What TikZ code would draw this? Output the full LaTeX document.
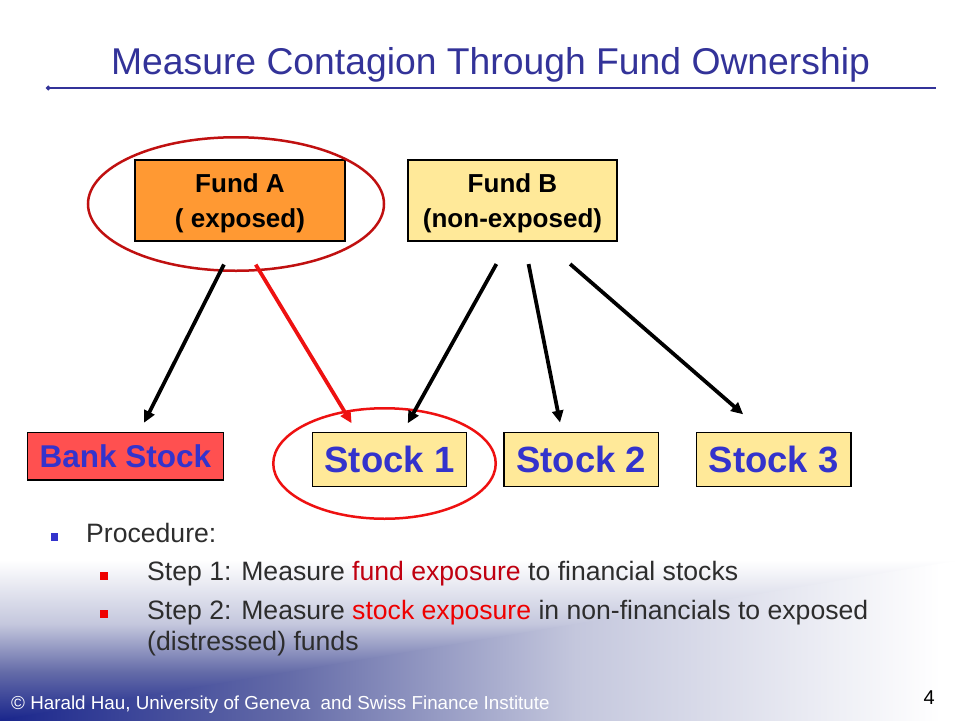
\documentclass[tikz,border=0pt]{standalone}
\usepackage{fontspec}
\setmainfont{Liberation Sans}
\usetikzlibrary{arrows.meta,shapes.geometric}
\definecolor{titleblue}{RGB}{51,51,153}
\definecolor{boxblue}{RGB}{51,51,204}
\definecolor{fundorange}{RGB}{255,153,51}
\definecolor{paleyellow}{RGB}{255,233,153}
\definecolor{bankred}{RGB}{255,80,80}
\definecolor{darkring}{RGB}{192,16,16}
\definecolor{brightred}{RGB}{238,17,17}
\definecolor{bodygray}{RGB}{45,45,45}
\definecolor{darkredtxt}{RGB}{192,0,16}
\definecolor{bulletred}{RGB}{238,0,0}
\definecolor{gradA}{RGB}{26,38,140}
\definecolor{gradB}{RGB}{100,107,168}
\definecolor{gradC}{RGB}{196,199,221}
\pgfdeclarehorizontalshading{foothor}{100bp}{color(0bp)=(gradA); color(25bp)=(gradA); color(40bp)=(gradB); color(55bp)=(gradC); color(74bp)=(white); color(100bp)=(white)}
\pgfdeclareverticalshading{footver}{100bp}{color(0bp)=(gradA); color(25bp)=(gradA); color(40bp)=(gradB); color(55bp)=(gradC); color(75bp)=(white); color(100bp)=(white)}
\begin{document}
\begin{tikzpicture}[x=1pt,y=-1pt,
  fundbox/.style={draw=black, line width=1.2pt, minimum width=210pt, minimum height=81pt, inner sep=0pt},
  stockbox/.style={draw=black, line width=1.2pt, fill=paleyellow, minimum width=154.5pt, minimum height=54pt, inner sep=0pt, text=boxblue, font=\fontsize{36.5pt}{40pt}\selectfont\bfseries},
  fundtxt/.style={anchor=base, inner sep=0pt, font=\fontsize{26pt}{30pt}\selectfont\bfseries},
  bodytxt/.style={anchor=base west, inner sep=0pt, text=bodygray, font=\fontsize{26.6pt}{32pt}\selectfont},
  arr/.style={line width=3.75pt, -{Triangle[length=12pt,width=11pt]}},
  ring/.style={ellipse, draw, line width=2.5pt, inner sep=0pt},
  sqbullet/.style={inner sep=0pt, rectangle}
]
\useasboundingbox (0,0) rectangle (960,720);
\fill[white] (0,0) rectangle (960,720);
% footer gradient
\shade[shading=foothor] (0,560) rectangle (960,720);
\shade[shading=footver] (0,720) -- (0,560) -- (960,560) -- cycle;

% title
\node[anchor=base, inner sep=0pt, text=titleblue, font=\fontsize{37.3pt}{40pt}\selectfont] (title) at (490.5,74) {Measure Contagion Through Fund Ownership};
\coordinate (rulel) at (46,88);
\coordinate (ruler) at (936,88);
\draw[titleblue, line width=2.2pt, {Circle[length=4.5pt]}-] (rulel) -- (ruler);

% fund boxes
\node[fundbox, fill=fundorange] (fa) at (240,200.5) {};
\node[fundbox, fill=paleyellow, minimum width=209pt] (fb) at (512.5,200.5) {};
\node[fundtxt] (fa1) at (240,192) {Fund A};
\node[fundtxt] (fa2) at (240,227) {( exposed)};
\node[fundtxt] (fb1) at (512.5,192) {Fund B};
\node[fundtxt] (fb2) at (512.5,227) {(non-exposed)};

% stock boxes
\node[draw=black, line width=1.2pt, fill=bankred, minimum width=196pt, minimum height=47.7pt, inner sep=0pt, text=boxblue, font=\fontsize{31.5pt}{36pt}\selectfont\bfseries] (bank) at (125.3,456.2) {Bank Stock};
\node[stockbox] (s1) at (389.5,459.6) {Stock 1};
\node[stockbox] (s2) at (581.3,459.6) {Stock 2};
\node[stockbox] (s3) at (773.7,459.6) {Stock 3};

% rings
\node[ring, draw=darkring, minimum width=296pt, minimum height=133.5pt] (ringa) at (236,204) {};
\node[ring, draw=brightred, minimum width=222.5pt, minimum height=110.5pt] (ringb) at (384.5,463.5) {};

% arrows
\draw[arr, black, shorten <=25.7pt, shorten >=10.1pt] ([xshift=-4.5pt]fa.south) -- ([xshift=14.2pt]bank.north);
\draw[arr, brightred, shorten <=26.9pt, shorten >=10.2pt] ([xshift=1.8pt]fa.south) -- ([xshift=-32.6pt]s1.north);
\draw[arr, black, shorten <=25.7pt, shorten >=10pt] ([xshift=-3.6pt]fb.south) -- ([xshift=13.4pt]s1.north);
\draw[arr, black, shorten <=22.9pt, shorten >=9.6pt] ([xshift=11.6pt]fb.south) -- ([xshift=-19.4pt]s2.north);
\draw[arr, black, shorten <=34.2pt, shorten >=26.9pt] ([xshift=31.8pt]fb.south) -- ([xshift=-10.2pt]s3.north);

% bullets
\node[sqbullet, fill=boxblue, minimum size=7.5pt] (b0) at (54.5,537) {};
\node[sqbullet, fill=bulletred, minimum width=8.5pt, minimum height=8.5pt] (b1) at (103.8,575.8) {};
\node[sqbullet, fill=bulletred, minimum width=8.5pt, minimum height=8.5pt] (b2) at (103.8,614) {};
\node[bodytxt] (proc) at (86,542.7) {Procedure:};
\node[bodytxt] (step1) at (147,580) {Step 1: Measure \textcolor{darkredtxt}{fund exposure} to financial stocks};
\node[bodytxt] (step2) at (147,619.3) {Step 2: Measure \textcolor{bulletred}{stock exposure} in non-financials to exposed};
\node[bodytxt] (step2b) at (147,650.7) {(distressed) funds};

% footer
\node[anchor=base west, inner sep=0pt, text=white, font=\fontsize{18.8pt}{22pt}\selectfont] (foot) at (11,709) {© Harald Hau, University of Geneva\ \ and Swiss Finance Institute};
\node[anchor=base west, inner sep=0pt, text=black, font=\fontsize{20pt}{24pt}\selectfont] (pagenum) at (923.5,704) {4};
\end{tikzpicture}
\end{document}
